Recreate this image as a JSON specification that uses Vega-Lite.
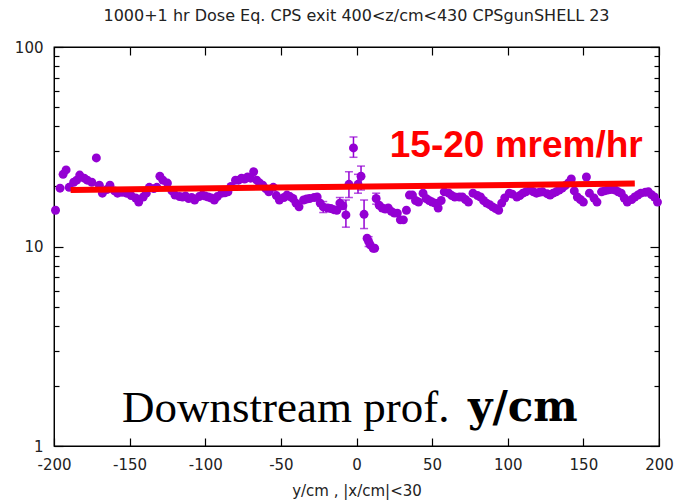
{
  "$schema": "https://vega.github.io/schema/vega-lite/v6.json",
  "width": 605,
  "height": 399,
  "autosize": {"type": "none"},
  "padding": {"left": 54, "top": 47, "right": 20, "bottom": 55},
  "background": "white",
  "title": {"text": "1000+1 hr Dose Eq. CPS exit 400<z/cm<430 CPSgunSHELL 23", "font": "DejaVu Sans", "fontSize": 16, "fontWeight": "normal", "color": "#222222", "anchor": "middle", "baseline": "alphabetic", "offset": 3},
  "config": {
    "view": {"stroke": "black", "strokeWidth": 1.3},
    "font": "DejaVu Sans",
    "axis": {"grid": false, "domainColor": "black", "tickColor": "black", "tickWidth": 1.2, "labelFont": "DejaVu Sans", "labelFontSize": 15, "labelColor": "#222222", "titleFont": "DejaVu Sans", "titleFontSize": 15, "titleFontWeight": "normal", "titleColor": "#222222"}
  },
  "datasets": {
    "pts": [
      {"x": -199, "y": 15.2}, {"x": -196, "y": 19.6}, {"x": -194, "y": 23.0}, {"x": -192, "y": 24.2}, {"x": -190, "y": 19.8},
      {"x": -187, "y": 21.0}, {"x": -185, "y": 21.5}, {"x": -183, "y": 22.8}, {"x": -180, "y": 22.0}, {"x": -178, "y": 21.5},
      {"x": -175, "y": 21.0}, {"x": -172, "y": 27.8}, {"x": -170, "y": 20.3}, {"x": -168, "y": 18.5}, {"x": -165, "y": 19.3},
      {"x": -163, "y": 20.3}, {"x": -160, "y": 19.0}, {"x": -158, "y": 18.5}, {"x": -155, "y": 18.7}, {"x": -152, "y": 18.5},
      {"x": -149, "y": 18.0}, {"x": -146, "y": 17.5}, {"x": -144, "y": 16.7}, {"x": -141, "y": 17.7}, {"x": -139, "y": 18.5},
      {"x": -137, "y": 19.8}, {"x": -134, "y": 19.5}, {"x": -132, "y": 19.8}, {"x": -130, "y": 22.5}, {"x": -128, "y": 21.5},
      {"x": -125, "y": 20.8}, {"x": -122, "y": 19.0}, {"x": -120, "y": 18.1}, {"x": -117, "y": 17.8}, {"x": -115, "y": 17.7},
      {"x": -113, "y": 17.9}, {"x": -111, "y": 17.4}, {"x": -109, "y": 17.6}, {"x": -107, "y": 17.1}, {"x": -104, "y": 17.8},
      {"x": -102, "y": 18.1}, {"x": -100, "y": 17.9}, {"x": -98, "y": 17.7}, {"x": -96, "y": 17.5}, {"x": -94, "y": 17.1},
      {"x": -92, "y": 17.8}, {"x": -89, "y": 18.5}, {"x": -87, "y": 18.6}, {"x": -85, "y": 18.8}, {"x": -83, "y": 20.0},
      {"x": -80, "y": 21.5}, {"x": -78, "y": 21.5}, {"x": -76, "y": 22.0}, {"x": -74, "y": 21.8}, {"x": -72, "y": 22.3},
      {"x": -70, "y": 22.0}, {"x": -68, "y": 23.7}, {"x": -66, "y": 21.5}, {"x": -64, "y": 20.8}, {"x": -62, "y": 20.3},
      {"x": -60, "y": 19.5}, {"x": -58, "y": 18.8}, {"x": -55, "y": 19.8}, {"x": -53, "y": 18.0}, {"x": -51, "y": 17.1},
      {"x": -48, "y": 17.6}, {"x": -46, "y": 18.1}, {"x": -44, "y": 17.8}, {"x": -42, "y": 17.4}, {"x": -40, "y": 16.5},
      {"x": -38, "y": 15.8}, {"x": -35, "y": 17.1}, {"x": -33, "y": 17.3}, {"x": -31, "y": 17.4}, {"x": -28, "y": 17.6},
      {"x": -26, "y": 17.7}, {"x": -24, "y": 16.5}, {"x": -22, "y": 15.8}, {"x": -19, "y": 15.6}, {"x": -17, "y": 15.5},
      {"x": -15, "y": 15.3}, {"x": -13, "y": 15.2}, {"x": -11, "y": 16.5}, {"x": -9, "y": 16.0}, {"x": -7, "y": 14.4},
      {"x": -5, "y": 20.5}, {"x": -2, "y": 31.2}, {"x": 1, "y": 20.5}, {"x": 3, "y": 22.5}, {"x": 5, "y": 14.5},
      {"x": 7, "y": 11.0}, {"x": 8, "y": 10.6}, {"x": 9, "y": 10.2}, {"x": 11, "y": 9.8}, {"x": 12, "y": 9.8},
      {"x": 13, "y": 17.4}, {"x": 15, "y": 16.1}, {"x": 17, "y": 15.6}, {"x": 19, "y": 15.4}, {"x": 21, "y": 15.6},
      {"x": 23, "y": 15.0}, {"x": 25, "y": 14.7}, {"x": 27, "y": 14.7}, {"x": 29, "y": 13.6}, {"x": 31, "y": 13.6},
      {"x": 33, "y": 15.2}, {"x": 35, "y": 18.1}, {"x": 37, "y": 18.1}, {"x": 39, "y": 17.0}, {"x": 41, "y": 16.7},
      {"x": 44, "y": 18.5}, {"x": 46, "y": 17.4}, {"x": 48, "y": 17.0}, {"x": 50, "y": 16.7}, {"x": 52, "y": 16.5},
      {"x": 54, "y": 15.6}, {"x": 56, "y": 17.0}, {"x": 58, "y": 18.8}, {"x": 61, "y": 18.5}, {"x": 63, "y": 18.0},
      {"x": 65, "y": 17.7}, {"x": 68, "y": 17.7}, {"x": 70, "y": 17.7}, {"x": 72, "y": 17.2}, {"x": 74, "y": 16.7},
      {"x": 77, "y": 18.5}, {"x": 80, "y": 18.0}, {"x": 82, "y": 17.7}, {"x": 84, "y": 17.0}, {"x": 86, "y": 16.5},
      {"x": 88, "y": 16.2}, {"x": 90, "y": 15.8}, {"x": 92, "y": 15.5}, {"x": 94, "y": 15.2}, {"x": 96, "y": 16.5},
      {"x": 98, "y": 17.5}, {"x": 101, "y": 18.5}, {"x": 103, "y": 18.3}, {"x": 106, "y": 17.7}, {"x": 108, "y": 18.0},
      {"x": 110, "y": 18.5}, {"x": 112, "y": 18.8}, {"x": 115, "y": 19.2}, {"x": 117, "y": 18.8}, {"x": 119, "y": 18.5},
      {"x": 121, "y": 18.7}, {"x": 123, "y": 18.8}, {"x": 126, "y": 18.4}, {"x": 128, "y": 18.1}, {"x": 130, "y": 18.5},
      {"x": 132, "y": 18.8}, {"x": 134, "y": 19.2}, {"x": 136, "y": 19.6}, {"x": 138, "y": 20.2}, {"x": 140, "y": 20.8},
      {"x": 142, "y": 21.8}, {"x": 144, "y": 19.0}, {"x": 146, "y": 17.7}, {"x": 148, "y": 17.2}, {"x": 150, "y": 16.7},
      {"x": 152, "y": 22.3}, {"x": 154, "y": 18.5}, {"x": 157, "y": 17.5}, {"x": 159, "y": 16.7}, {"x": 162, "y": 18.8},
      {"x": 164, "y": 19.0}, {"x": 166, "y": 19.2}, {"x": 168, "y": 19.3}, {"x": 171, "y": 19.2}, {"x": 173, "y": 18.8},
      {"x": 175, "y": 18.5}, {"x": 177, "y": 17.5}, {"x": 179, "y": 16.7}, {"x": 182, "y": 17.2}, {"x": 184, "y": 17.7},
      {"x": 186, "y": 18.1}, {"x": 188, "y": 18.5}, {"x": 191, "y": 18.7}, {"x": 193, "y": 18.8}, {"x": 195, "y": 18.2},
      {"x": 197, "y": 17.7}, {"x": 199, "y": 16.7}
    ],
    "err": [
      {"x": -22, "lo": 14.8, "hi": 16.8}, {"x": -11, "lo": 15.4, "hi": 17.6}, {"x": -7, "lo": 12.5, "hi": 17.1},
      {"x": -5, "lo": 17.6, "hi": 23.7}, {"x": -2, "lo": 28.0, "hi": 35.4}, {"x": 1, "lo": 18.5, "hi": 23.0},
      {"x": 3, "lo": 19.2, "hi": 25.3}, {"x": 5, "lo": 12.3, "hi": 17.1}, {"x": 8, "lo": 10.0, "hi": 11.2},
      {"x": 13, "lo": 16.3, "hi": 18.5}
    ],
    "fit": [{"x": -189, "y": 19.2}, {"x": 184, "y": 20.7}]
  },
  "layer": [
    {
      "data": {"name": "err"},
      "mark": {"type": "errorbar", "color": "#9400D3", "thickness": 1.5, "ticks": {"size": 8, "thickness": 1.5, "color": "#9400D3"}},
      "encoding": {
        "x": {"field": "x", "type": "quantitative", "scale": {"domain": [-200, 200], "nice": false, "zero": false}, "axis": null},
        "y": {"field": "lo", "type": "quantitative", "scale": {"type": "log", "domain": [1, 100], "nice": false}, "axis": null},
        "y2": {"field": "hi"}
      }
    },
    {
      "data": {"name": "pts"},
      "mark": {"type": "point", "filled": true, "shape": "circle", "size": 80, "color": "#9400D3", "opacity": 1},
      "encoding": {
        "x": {"field": "x", "type": "quantitative", "scale": {"domain": [-200, 200], "nice": false, "zero": false},
              "axis": {"orient": "bottom", "values": [-200, -150, -100, -50, 0, 50, 100, 150, 200], "labelExpr": "replace(datum.label, '\u2212', '-')", "tickSize": -8, "labelPadding": 19, "title": "y/cm , |x/cm|<30", "titlePadding": 11, "domain": true, "labelFlush": false}},
        "y": {"field": "y", "type": "quantitative", "scale": {"type": "log", "domain": [1, 100], "nice": false},
              "axis": {"orient": "left", "values": [1, 2, 3, 4, 5, 6, 7, 8, 9, 10, 20, 30, 40, 50, 60, 70, 80, 90, 100],
                       "labelExpr": "datum.value == 1 || datum.value == 10 || datum.value == 100 ? format(datum.value, 'd') : ''",
                       "tickSize": {"condition": {"test": "datum.value == 1 || datum.value == 10 || datum.value == 100", "value": -9}, "value": -5},
                       "labelOverlap": false, "labelFlush": false, "labelPadding": 20, "title": null, "domain": true}}
      }
    },
    {
      "data": {"name": "fit"},
      "mark": {"type": "line", "color": "#ff0000", "strokeWidth": 6},
      "encoding": {
        "x": {"field": "x", "type": "quantitative", "scale": {"domain": [-200, 200], "nice": false, "zero": false},
              "axis": {"orient": "top", "values": [-200, -150, -100, -50, 0, 50, 100, 150, 200], "tickSize": -8, "labels": false, "title": null, "domain": true}},
        "y": {"field": "y", "type": "quantitative", "scale": {"type": "log", "domain": [1, 100], "nice": false},
              "axis": {"orient": "right", "values": [1, 2, 3, 4, 5, 6, 7, 8, 9, 10, 20, 30, 40, 50, 60, 70, 80, 90, 100],
                       "tickSize": {"condition": {"test": "datum.value == 1 || datum.value == 10 || datum.value == 100", "value": -9}, "value": -5},
                       "labels": false, "title": null, "domain": true}}
      }
    },
    {
      "data": {"values": [{"x": 22, "y": 28.0, "label": "15-20 mrem/hr"}]},
      "mark": {"type": "text", "align": "left", "baseline": "alphabetic", "font": "Liberation Sans", "fontSize": 37, "fontWeight": "bold", "color": "#ff0000"},
      "encoding": {
        "x": {"field": "x", "type": "quantitative", "axis": null},
        "y": {"field": "y", "type": "quantitative", "axis": null},
        "text": {"field": "label"}
      }
    },
    {
      "data": {"values": [{"x": -155, "y": 1.32, "label": "Downstream prof."}]},
      "mark": {"type": "text", "align": "left", "baseline": "alphabetic", "font": "Liberation Serif", "fontSize": 45, "color": "#000000"},
      "encoding": {
        "x": {"field": "x", "type": "quantitative", "axis": null},
        "y": {"field": "y", "type": "quantitative", "axis": null},
        "text": {"field": "label"}
      }
    },
    {
      "data": {"values": [{"x": 73.7, "y": 1.335, "label": "y/cm"}]},
      "mark": {"type": "text", "align": "left", "baseline": "alphabetic", "font": "DejaVu Serif", "fontSize": 42, "fontWeight": "bold", "color": "#000000"},
      "encoding": {
        "x": {"field": "x", "type": "quantitative", "axis": null},
        "y": {"field": "y", "type": "quantitative", "axis": null},
        "text": {"field": "label"}
      }
    }
  ],
  "resolve": {"axis": {"x": "independent", "y": "independent"}}
}
